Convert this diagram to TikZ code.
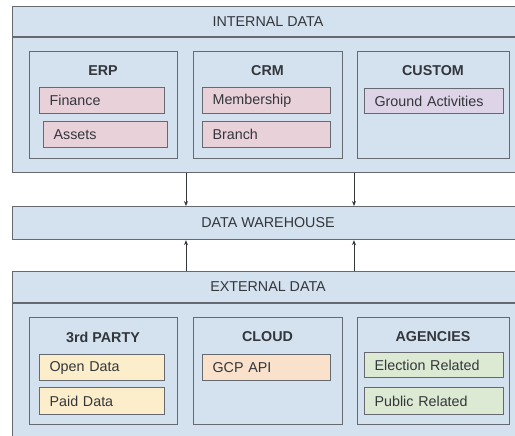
\documentclass[tikz,border=0pt]{standalone}
\usepackage{fontspec}
\setmainfont{Liberation Sans}
\usetikzlibrary{arrows.meta}
\definecolor{bgc}{HTML}{D4E1EF}
\definecolor{bdc}{HTML}{666A70}
\definecolor{pinkf}{HTML}{E9D1DA}
\definecolor{lavf}{HTML}{DED4E7}
\definecolor{yelf}{HTML}{FCEECB}
\definecolor{orgf}{HTML}{F9E1CC}
\definecolor{grnf}{HTML}{DCE9D3}
\definecolor{txtc}{HTML}{33363B}
\tikzset{
  outerbox/.style={draw=bdc, fill=bgc, line width=1.2pt, anchor=north west, inner sep=0pt, minimum width=512pt},
  groupbox/.style={draw=bdc, fill=bgc, line width=1.2pt, anchor=north west, inner sep=0pt, minimum height=107pt},
  hdr/.style={text=txtc, font=\fontsize{14.3}{16}\selectfont, inner sep=0pt},
  ttl/.style={text=txtc, font=\fontsize{14.3}{16}\selectfont\bfseries, inner sep=0pt},
  itembox/.style={draw=bdc, line width=1.2pt, anchor=north west, inner xsep=10pt, inner ysep=0pt, align=left, text=txtc, font=\fontsize{14.3}{16}\selectfont},
  arr/.style={draw=txtc, line width=0.9pt, -{Stealth[length=5pt,width=4pt]}}
}
\begin{document}
\begin{tikzpicture}[x=1pt,y=-1pt]
\useasboundingbox[fill=white] (0,0) rectangle (515,436);
% internal
\node[outerbox, minimum height=166pt] (internal) at (12,6) {};
\coordinate (ih) at (0,37);
\draw[draw=bdc, line width=1.2pt] (internal.west |- ih) -- (internal.east |- ih);
\node[hdr] (internalT) at (268,22) {INTERNAL DATA};
\node[groupbox, minimum width=148pt] (erp) at (29,51) {};
\node[groupbox, minimum width=149pt] (crm) at (193,51) {};
\node[groupbox, minimum width=152pt] (custom) at (357,51) {};
\node[ttl] (erpT) at (103,71) {ERP};
\node[ttl] (crmT) at (267.5,71) {CRM};
\node[ttl] (customT) at (433,71) {CUSTOM};
\node[itembox, fill=pinkf, text width=105pt, minimum height=26pt] (fin) at (39,87) {Finance};
\node[itembox, fill=pinkf, text width=104pt, minimum height=26pt] (assets) at (43,121) {Assets};
\node[itembox, fill=pinkf, text width=108pt, minimum height=26pt] (memb) at (202,87) {Membership};
\node[itembox, fill=pinkf, text width=108pt, minimum height=26pt] (branch) at (202,121) {Branch};
\node[itembox, fill=lavf, text width=119pt, minimum height=25pt] (ground) at (364,88) {Ground Activities};
% data warehouse
\node[outerbox, minimum height=33pt] (dw) at (12,206) {};
\node[hdr] (dwT) at (268,223) {DATA WAREHOUSE};
% external
\node[outerbox, minimum height=175pt] (external) at (12,271) {};
\coordinate (eh) at (0,303);
\draw[draw=bdc, line width=1.2pt] (external.west |- eh) -- (external.east |- eh);
\node[hdr] (externalT) at (268,287) {EXTERNAL DATA};
\node[groupbox, minimum width=148pt] (third) at (29,317) {};
\node[groupbox, minimum width=149pt] (cloud) at (193,317) {};
\node[groupbox, minimum width=152pt] (agencies) at (357,317) {};
\node[ttl] (thirdT) at (103,337) {3rd PARTY};
\node[ttl] (cloudT) at (267.5,337) {CLOUD};
\node[ttl] (agenciesT) at (433,337) {AGENCIES};
\node[itembox, fill=yelf, text width=105pt, minimum height=26pt] (open) at (39,354) {Open Data};
\node[itembox, fill=yelf, text width=105pt, minimum height=27pt] (paid) at (39,387) {Paid Data};
\node[itembox, fill=orgf, text width=108pt, minimum height=26pt] (gcp) at (202,354) {GCP API};
\node[itembox, fill=grnf, text width=119pt, minimum height=25pt] (election) at (364,352) {Election Related};
\node[itembox, fill=grnf, text width=119pt, minimum height=27pt] (public) at (364,387) {Public Related};
% arrows
\coordinate (c1) at (186,0);
\coordinate (c2) at (354,0);
\draw[arr] (c1 |- internal.south) -- (c1 |- dw.north);
\draw[arr] (c2 |- internal.south) -- (c2 |- dw.north);
\draw[arr] (c1 |- external.north) -- (c1 |- dw.south);
\draw[arr] (c2 |- external.north) -- (c2 |- dw.south);
\end{tikzpicture}
\end{document}
